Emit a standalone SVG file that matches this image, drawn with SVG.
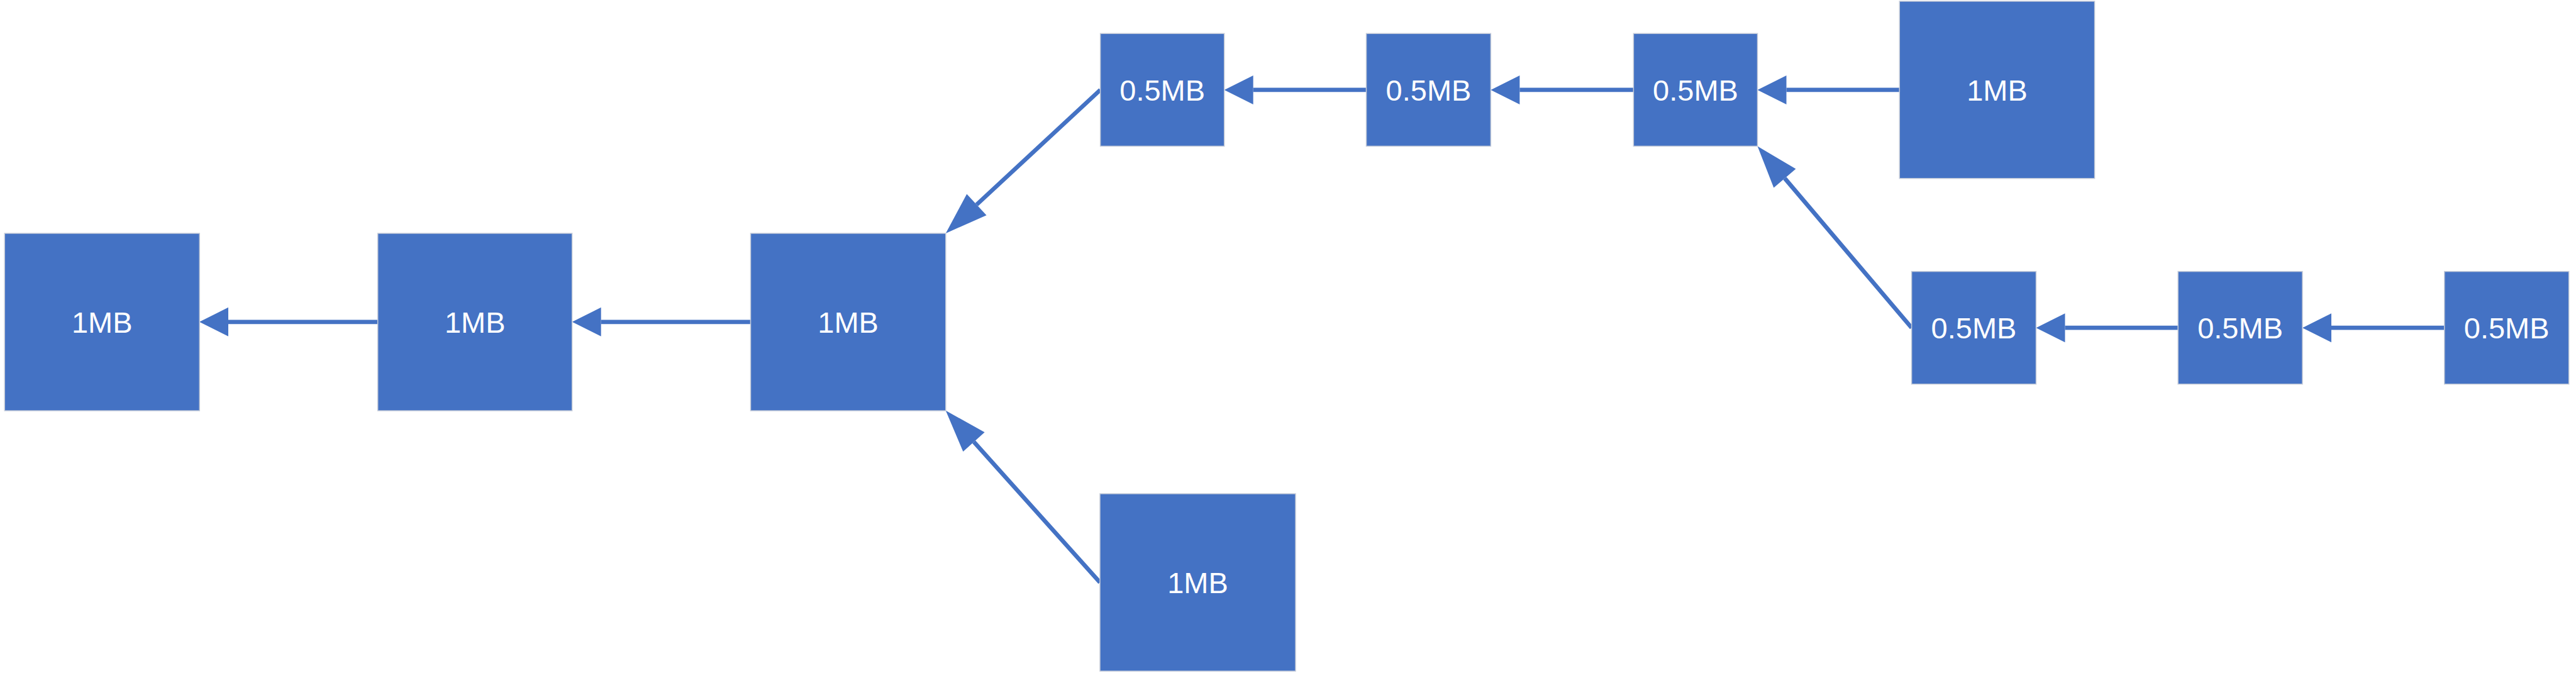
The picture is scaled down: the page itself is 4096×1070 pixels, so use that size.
<svg xmlns="http://www.w3.org/2000/svg" width="4096" height="1070" viewBox="0 0 4096 1070">
<defs>
<style>
.n{fill:#4472C4;stroke:#C3CAD8;stroke-width:1.5}
.t{fill:#FFFFFF;font-family:"Liberation Sans",Arial,sans-serif;font-size:47px;text-anchor:middle}
.c{stroke:#4472C4;stroke-width:6.7;fill:none}
</style>
<marker id="ah" markerUnits="userSpaceOnUse" markerWidth="47" markerHeight="46" refX="0" refY="23" orient="auto" overflow="visible">
<path d="M0,0 L46,23 L0,46 Z" fill="#4472C4"/>
</marker>
<marker id="ahl" markerUnits="userSpaceOnUse" markerWidth="68" markerHeight="46" refX="0" refY="23" orient="auto" overflow="visible">
<path d="M0,0 L67,23 L0,46 Z" fill="#4472C4"/>
</marker>
</defs>
<rect width="4096" height="1070" fill="#FFFFFF"/>
<g id="connectors">
<path class="c" d="M600.7,511.8 H363" marker-end="url(#ah)"/>
<path class="c" d="M1193.5,511.8 H955.7" marker-end="url(#ah)"/>
<path class="c" d="M2172.5,142.9 H1992.7" marker-end="url(#ah)"/>
<path class="c" d="M2597.4,142.9 H2416.4" marker-end="url(#ah)"/>
<path class="c" d="M3020.3,142.9 H2840.5" marker-end="url(#ah)"/>
<path class="c" d="M3463.2,521.2 H3283.5" marker-end="url(#ah)"/>
<path class="c" d="M3886.8,521.2 H3707" marker-end="url(#ah)"/>
<path class="c" d="M1749.6,142.9 L1552.9,325.4" marker-end="url(#ahl)"/>
<path class="c" d="M1749,926 L1548.5,702.6" marker-end="url(#ahl)"/>
<path class="c" d="M3039.6,521.2 L2837.9,283.5" marker-end="url(#ahl)"/>
</g>
<g id="nodeA"><rect class="n" x="7.3" y="371" width="310" height="282"/><text class="t" x="162.3" y="528.6">1MB</text></g>
<g id="nodeB"><rect class="n" x="600.7" y="371" width="309" height="282"/><text class="t" x="755.2" y="528.6">1MB</text></g>
<g id="nodeC"><rect class="n" x="1193.5" y="371" width="310.3" height="282"/><text class="t" x="1348.6" y="528.6">1MB</text></g>
<g id="nodeD"><rect class="n" x="1749" y="785" width="311" height="282"/><text class="t" x="1904.5" y="942.8">1MB</text></g>
<g id="nodeE"><rect class="n" x="1749.6" y="53.3" width="197.1" height="179.1"/><text class="t" x="1848.2" y="159.7">0.5MB</text></g>
<g id="nodeF"><rect class="n" x="2172.5" y="53.3" width="197.9" height="179.1"/><text class="t" x="2271.5" y="159.7">0.5MB</text></g>
<g id="nodeG"><rect class="n" x="2597.4" y="53.3" width="197.1" height="179.1"/><text class="t" x="2696" y="159.7">0.5MB</text></g>
<g id="nodeH"><rect class="n" x="3020.3" y="2" width="310.3" height="281.7"/><text class="t" x="3175.5" y="159.7">1MB</text></g>
<g id="nodeI"><rect class="n" x="3039.6" y="431.6" width="197.9" height="179.1"/><text class="t" x="3138.5" y="538">0.5MB</text></g>
<g id="nodeJ"><rect class="n" x="3463.2" y="431.6" width="197.8" height="179.1"/><text class="t" x="3562.1" y="538">0.5MB</text></g>
<g id="nodeK"><rect class="n" x="3886.8" y="431.6" width="197.9" height="179.1"/><text class="t" x="3985.7" y="538">0.5MB</text></g>
</svg>
